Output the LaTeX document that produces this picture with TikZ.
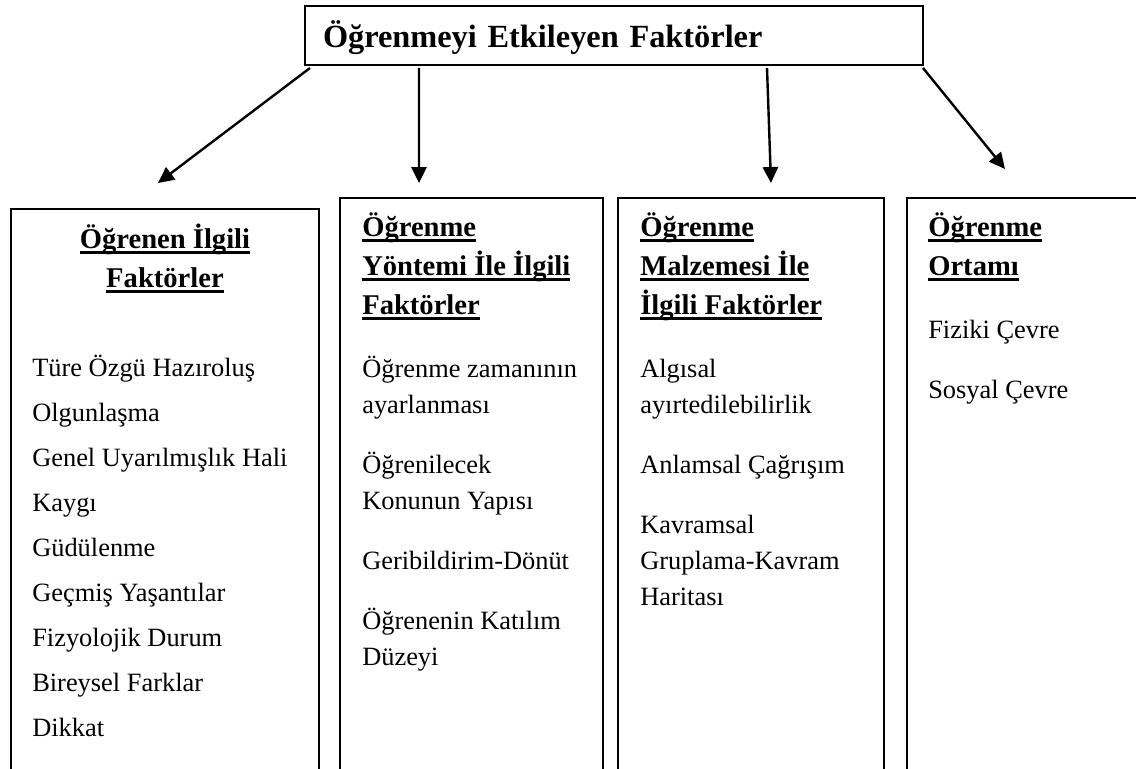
\documentclass[tikz,border=0pt]{standalone}
\usepackage{fontspec}
\setmainfont{Liberation Serif}
\usetikzlibrary{arrows.meta}

\newsavebox{\headbox}
\newcommand{\ulhead}[1]{\sbox{\headbox}{#1}\rlap{\rule[-4pt]{\wd\headbox}{2pt}}\usebox{\headbox}}

\tikzset{
  frame/.style={line width=0.05cm},
  panel/.style={inner sep=0pt, outer sep=0pt, anchor=north west},
  titlebox/.style={draw, line width=0.05cm, outer sep=0pt, inner xsep=0.45cm, inner ysep=0pt,
    text width=14.55cm, align=left, text height=1.05cm, text depth=0.425cm, anchor=base west,
    font=\fontsize{23}{27}\selectfont\bfseries},
  headtext/.style={inner sep=0pt, align=left, anchor=base west,
    font=\fontsize{20.34}{27.74}\selectfont\bfseries},
  headcentre/.style={headtext, align=center, anchor=base},
  itemtext/.style={inner sep=0pt, align=left, anchor=base west,
    font=\fontsize{18.78}{25.6}\selectfont},
  pointer/.style={line width=0.06cm, -{Triangle[length=0.4cm, width=0.38cm]}}
}

\begin{document}
\begin{tikzpicture}
   \useasboundingbox (0,0) rectangle (28.4,-19.225);

   \node (Title) at (7.625,-1.2) [titlebox] {Öğrenmeyi Etkileyen Faktörler};

   % open panels
   \node (Learner) at (0.275,-5.225) [panel, minimum width=7.7cm, minimum height=14.4cm] {};
   \node (Method) at (8.5,-4.95) [panel, minimum width=6.575cm, minimum height=14.7cm] {};
   \node (Material) at (15.45,-4.95) [panel, minimum width=6.65cm, minimum height=14.7cm] {};
   \node (Setting) at (22.675,-4.95) [panel, minimum width=6.5cm, minimum height=14.7cm] {};

   \draw [frame] (Learner.south west) -- (Learner.north west) -- (Learner.north east) -- (Learner.south east);
   \draw [frame] (Method.south west) -- (Method.north west) -- (Method.north east) -- (Method.south east);
   \draw [frame] (Material.south west) -- (Material.north west) -- (Material.north east) -- (Material.south east);
   \draw [frame] (Setting.south west) -- (Setting.north west) -- (Setting.north east) -- (Setting.south east);

   % learner (base = last line)
   \node (LearnerHead) at (4.125,-7.175) [headcentre] {\ulhead{Öğrenen İlgili}\\\ulhead{Faktörler}};
   \node (Readiness) at (0.8,-9.4) [itemtext] {Türe Özgü Hazıroluş};
   \node (Maturation) at (0.8,-10.525) [itemtext] {Olgunlaşma};
   \node (Arousal) at (0.8,-11.65) [itemtext] {Genel Uyarılmışlık Hali};
   \node (Anxiety) at (0.8,-12.775) [itemtext] {Kaygı};
   \node (Motivation) at (0.8,-13.9) [itemtext] {Güdülenme};
   \node (Experience) at (0.8,-15.025) [itemtext] {Geçmiş Yaşantılar};
   \node (Physiology) at (0.8,-16.15) [itemtext] {Fizyolojik Durum};
   \node (Differences) at (0.8,-17.275) [itemtext] {Bireysel Farklar};
   \node (Attention) at (0.8,-18.4) [itemtext] {Dikkat};

   % method
   \node (MethodHead) at (9.05,-7.85) [headtext] {\ulhead{Öğrenme}\\\ulhead{Yöntemi İle İlgili}\\\ulhead{Faktörler}};
   \node (Timing) at (9.05,-10.325) [itemtext] {Öğrenme zamanının\\ayarlanması};
   \node (Structure) at (9.05,-12.725) [itemtext] {Öğrenilecek\\Konunun Yapısı};
   \node (Feedback) at (9.05,-14.225) [itemtext] {Geribildirim-Dönüt};
   \node (Participation) at (9.05,-16.625) [itemtext] {Öğrenenin Katılım\\Düzeyi};

   % material
   \node (MaterialHead) at (16.0,-7.85) [headtext] {\ulhead{Öğrenme}\\\ulhead{Malzemesi İle}\\\ulhead{İlgili Faktörler}};
   \node (Perceptual) at (16.0,-10.325) [itemtext] {Algısal\\ayırtedilebilirlik};
   \node (Semantic) at (16.0,-11.825) [itemtext] {Anlamsal Çağrışım};
   \node (ConceptMap) at (16.0,-15.125) [itemtext] {Kavramsal\\Gruplama-Kavram\\Haritası};

   % setting
   \node (SettingHead) at (23.2,-6.875) [headtext] {\ulhead{Öğrenme}\\\ulhead{Ortamı}};
   \node (Physical) at (23.2,-8.45) [itemtext] {Fiziki Çevre};
   \node (Social) at (23.2,-9.95) [itemtext] {Sosyal Çevre};

   \coordinate (LearnerTip) at (3.95,-4.575);
   \coordinate (MethodTip) at (10.475,-4.575);
   \coordinate (MaterialTip) at (19.275,-4.575);
   \coordinate (SettingTip) at (25.125,-4.225);

   \draw [pointer] ([xshift=0.125cm,yshift=-0.075cm]Title.south west) -- (LearnerTip);
   \draw [pointer] ([xshift=2.85cm,yshift=-0.075cm]Title.south west) -- (MethodTip);
   \draw [pointer] ([xshift=11.55cm,yshift=-0.075cm]Title.south west) -- (MaterialTip);
   \draw [pointer] ([yshift=-0.075cm]Title.south east) -- (SettingTip);

\end{tikzpicture}
\end{document}
